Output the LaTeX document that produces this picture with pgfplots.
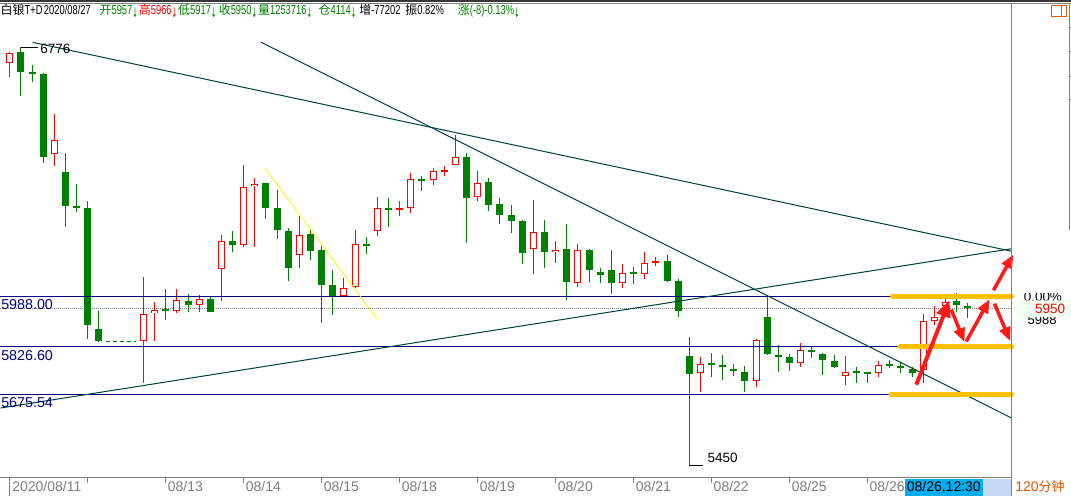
\documentclass[border=0pt]{standalone}
\usepackage{pgfplots}
\pgfplotsset{compat=1.18}
\usepackage{pgfplotstable}
\usepackage{graphicx}
\usepackage{fontspec}
\setmainfont{Liberation Sans}
\newfontfamily\cjk{Noto Sans CJK SC}
\newfontfamily\dv{DejaVu Sans}
\usetikzlibrary{arrows.meta}
\definecolor{cgreen}{HTML}{008000}
\definecolor{cred}{HTML}{FF0000}
\definecolor{navyl}{HTML}{000080}
\definecolor{tealx}{HTML}{004040}
\definecolor{amber}{HTML}{FFC000}
\definecolor{arrred}{HTML}{FF1A1A}
\definecolor{lgray}{HTML}{808080}
\definecolor{orangered2}{HTML}{E05A00}
\definecolor{lblue}{HTML}{C5DAF2}
\newcommand\lt[1]{\scalebox{0.72}[1]{\fontsize{13}{14}\selectfont #1}}
\newcommand\zh[1]{{\cjk\fontsize{12}{14}\selectfont #1}}
\newcommand\da{\raisebox{-3pt}{\scalebox{0.55}[1.1]{\dv\fontsize{12}{14}\selectfont ↓}}}

\pgfplotstableread{
x o h l c
0 6726 6760 6683 6759
4 6438 6565 6401 6483
12 5844 6047 5714 5932
13 5934 5970 5846 5944
15 5942 6011 5933 5975
17 5961 5992 5938 5978
19 6073 6181 5971 6162
21 6151 6404 6145 6333
22 6336 6362 6145 6343
26 6118 6243 6078 6181
30 5989 6046 5984 6014
31 6016 6198 6014 6153
33 6194 6302 6177 6267
35 6262 6290 6240 6268
36 6268 6378 6250 6358
38 6355 6394 6341 6384
39 6382 6401 6367 6386
40 6403 6498 6402 6428
42 6301 6385 6288 6347
47 6137 6293 6058 6191
49 6127 6163 6094 6135
51 6029 6154 6018 6134
55 6029 6090 6015 6062
57 6058 6127 6041 6092
58 6094 6112 6083 6100
62 5744 5796 5683 5773
67 5718 5852 5700 5850
71 5776 5839 5763 5817
75 5735 5797 5705 5747
78 5744 5783 5733 5770
82 5754 5931 5713 5909
83 5909 5957 5895 5922
84 5957 5979 5940 5970
}\redtab

\pgfplotstableread{
x o h l c
1 6761 6776 6623 6699
2 6697 6720 6667 6693
3 6693 6694 6411 6430
5 6381 6441 6208 6272
6 6272 6343 6253 6266
7 6268 6290 5853 5895
8 5884 5941 5843 5844
14 5945 6011 5913 5942
16 5973 5995 5938 5961
18 5979 5987 5936 5939
20 6163 6195 6126 6151
23 6347 6347 6233 6268
24 6268 6324 6170 6196
25 6195 6203 6037 6078
27 6185 6196 6103 6132
28 6135 6145 5904 6022
29 6022 6071 5927 5989
32 6151 6175 6120 6147
34 6268 6298 6208 6262
37 6359 6369 6322 6354
41 6429 6442 6155 6300
43 6350 6362 6259 6278
44 6280 6299 6215 6246
45 6245 6277 6189 6227
46 6226 6230 6091 6123
48 6192 6230 6078 6126
50 6138 6217 5976 6031
52 6135 6136 6033 6069
53 6065 6078 6028 6054
54 6071 6135 5996 6028
56 6063 6081 6025 6058
59 6100 6119 6032 6037
60 6036 6042 5923 5942
61 5799 5857 5450 5740
63 5775 5808 5730 5771
64 5770 5802 5721 5762
65 5758 5774 5733 5749
66 5748 5765 5683 5718
68 5922 5989 5802 5803
69 5802 5833 5746 5797
70 5796 5803 5752 5776
72 5818 5828 5792 5811
73 5804 5808 5737 5784
74 5783 5801 5759 5762
76 5748 5763 5714 5744
77 5745 5748 5713 5741
79 5771 5786 5761 5765
80 5766 5778 5744 5761
81 5758 5764 5733 5744
85 5971 5998 5937 5961
86 5957 5966 5917 5950
}\greentab

\begin{document}
\begin{tikzpicture}
\begin{scope}[x=1pt,y=-1pt,yshift=478pt]
\useasboundingbox (0,0) rectangle (1071,496);
\fill[white] (0,0) rectangle (1071,496);
\end{scope}
\begin{axis}[at={(0pt,0pt)}, anchor=south west, scale only axis,
  width=1012pt, height=474pt,
  xmin=-0.834, xmax=89.93, ymin=5412.7, ymax=6913.4,
  axis lines=none, clip=false]
% dotted last-price line
\addplot[lgray, line width=1pt, dash pattern=on 1pt off 1pt] coordinates {(-0.834,5950) (89.93,5950)};
% wicks
\addplot[draw=none, mark=none, error bars/.cd, y dir=both, y explicit, error mark=none,
  error bar style={line width=1pt, draw=cgreen}]
  table[x=x, y expr={(\thisrow{h}+\thisrow{l})/2}, y error expr={(\thisrow{h}-\thisrow{l})/2}] {\greentab};
\addplot[draw=none, mark=none, error bars/.cd, y dir=both, y explicit, error mark=none,
  error bar style={line width=1pt, draw=cred}]
  table[x=x, y expr={(\thisrow{h}+\thisrow{l})/2}, y error expr={(\thisrow{h}-\thisrow{l})/2}] {\redtab};
% bodies
\addplot[draw=none, mark=none, error bars/.cd, y dir=both, y explicit, error mark=none,
  error bar style={line width=7pt, draw=cgreen}]
  table[x=x, y expr={(\thisrow{o}+\thisrow{c})/2}, y error expr={max(abs(\thisrow{o}-\thisrow{c})/2,3.2)}] {\greentab};
\addplot[draw=none, mark=none, error bars/.cd, y dir=both, y explicit, error mark=none,
  error bar style={line width=7pt, draw=cred}]
  table[x=x, y expr={(\thisrow{o}+\thisrow{c})/2}, y error expr={max(abs(\thisrow{o}-\thisrow{c})/2,3.2)}] {\redtab};
\addplot[draw=none, mark=none, error bars/.cd, y dir=both, y explicit, error mark=none,
  error bar style={line width=5pt, draw=white}]
  table[x=x, y expr={(\thisrow{o}+\thisrow{c})/2}, y error expr={max(abs(\thisrow{o}-\thisrow{c})/2-3.2,0)}] {\redtab};
% suspended slots
\addplot[cgreen, line width=1pt, dash pattern=on 4pt off 3pt] coordinates {(8.67,5843) (11.36,5843)};
% horizontal levels
\addplot[navyl, line width=1pt] coordinates {(-0.834,5988) (89.93,5988)};
\addplot[navyl, line width=1pt] coordinates {(-0.834,5826.6) (89.93,5826.6)};
\addplot[navyl, line width=1pt] coordinates {(-0.834,5675.54) (89.93,5675.54)};
% trend lines
\addplot[tealx, line width=1pt] coordinates {(2.04,6792) (89.93,6130)};
\addplot[tealx, line width=1pt] coordinates {(22.57,6792) (89.96,5601)};
\addplot[tealx, line width=1pt] coordinates {(-0.83,5633) (89.96,6138)};
\addplot[yellow, line width=0.8pt] coordinates {(22.93,6392) (32.98,5915)};
% orange zones
\addplot[amber, line width=5pt, line cap=round] coordinates {(79.26,5988) (89.93,5988)};
\addplot[amber, line width=5pt, line cap=round] coordinates {(79.93,5826.6) (89.93,5826.6)};
\addplot[amber, line width=5pt, line cap=round] coordinates {(79.12,5675.54) (89.93,5675.54)};
% extreme annotations
\addplot[black, line width=0.8pt] coordinates {(1,6776) (2.55,6776)};
\addplot[black, line width=0.8pt] coordinates {(61,5450) (62.22,5450)};
\node[anchor=west, inner sep=0, font=\fontsize{13.5}{14}\selectfont] at (axis cs:2.72,6772) {6776};
\node[anchor=west, inner sep=0, font=\fontsize{13.5}{14}\selectfont] at (axis cs:62.62,5475) {5450};
% level labels
\node[anchor=west, inner sep=0, text=navyl, font=\fontsize{14.3}{15}\selectfont] at (axis cs:-0.78,5962) {5988.00};
\node[anchor=west, inner sep=0, text=navyl, font=\fontsize{14.3}{15}\selectfont] at (axis cs:-0.78,5800) {5826.60};
\node[anchor=west, inner sep=0, text=navyl, font=\fontsize{14.3}{15}\selectfont] at (axis cs:-0.78,5649) {5675.54};
% red arrows
\draw[arrred, line width=4pt, -{Triangle[length=17pt,width=14pt]}] (axis cs:81.38,5707) -- (axis cs:84.37,5975);
\draw[arrred, line width=3.5pt, -{Triangle[length=14pt,width=11pt]}] (axis cs:84.52,5945) -- (axis cs:85.71,5842);
\draw[arrred, line width=3.5pt, -{Triangle[length=14pt,width=11pt]}] (axis cs:85.87,5844) -- (axis cs:87.96,5978);
\draw[arrred, line width=3.5pt, -{Triangle[length=14pt,width=11pt]}] (axis cs:88.40,5964) -- (axis cs:89.81,5845);
\draw[arrred, line width=3.5pt, -{Triangle[length=14pt,width=11pt]}] (axis cs:88.31,6006) -- (axis cs:90.10,6120);
\end{axis}
\begin{scope}[x=1pt,y=-1pt,yshift=478pt]
% top band
\fill[black!78] (0,0) rectangle (1071,2.3);
\draw[lgray, line width=1pt] (0,3.5) -- (1071,3.5);
% frame
\draw[lgray, line width=1pt] (1012,3.5) -- (1012,496);
\draw[lgray, line width=1pt] (0,478.3) -- (1012,478.3);
\draw[lgray, line width=0.8pt] (1069.5,3) -- (1069.5,230);
\foreach \t in {27.7,51.7,76,99.3} \draw[lgray, line width=0.8pt] (1069.5,\t) -- (1071,\t);
% icon
\draw[orangered2, line width=0.9pt] (1051.5,5.7) rectangle (1066.5,16);
\draw[orangered2, line width=0.9pt] (1062.3,5.7) -- (1062.3,16);
% header
\begin{scope}[every node/.style={anchor=base west, inner sep=0}]
\node[text=black] at (0,14.5) {\zh{白银}\lt{T+D}};
\node[text=black] at (43.3,14.5) {\lt{2020/08/27}};
\node[text=cgreen] at (99,14.5) {\zh{开}\lt{5957}\da};
\node[text=cred] at (138.3,14.5) {\zh{高}\lt{5966}\da};
\node[text=cgreen] at (177.7,14.5) {\zh{低}\lt{5917}\da};
\node[text=cgreen] at (218.3,14.5) {\zh{收}\lt{5950}\da};
\node[text=cgreen] at (257.7,14.5) {\zh{量}\lt{1253716}\da};
\node[text=cgreen] at (318.3,14.5) {\zh{仓}\lt{4114}\da};
\node[text=black] at (359,14.5) {\zh{增}\lt{-77202}};
\node[text=black] at (405,14.5) {\zh{振}\lt{0.82\%}};
\node[text=cgreen] at (457.7,14.5) {\zh{涨}\lt{(-8)-0.13\%}\da};
% right price tags
\node[text=black, font=\fontsize{13.5}{14}\selectfont] at (1024,301.5) {0.00\%};
\node[text=black, font=\fontsize{13}{14}\selectfont] at (1028,324.5) {5988};
\end{scope}
\fill[white] (1016,286) rectangle (1068,293.5);
\fill[green!6!white] (1013,308.5) -- (1022,300.7) -- (1071,300.7) -- (1071,317.5) -- (1022,317.5) -- cycle;
\node[anchor=base west, inner sep=0, text=cred, font=\fontsize{13.5}{14}\selectfont] at (1035.5,313.3) {5950};
% x ticks and labels
\draw[lgray, line width=1pt] (9.3,478.3) -- (9.3,496);
\foreach \p in {87.35,165.4,243.45,321.5,399.55,477.6,555.65,633.7,711.75,789.8,867.85}
  \draw[lgray, line width=1pt] (\p,478.3) -- (\p,483.5);
\begin{scope}[every node/.style={anchor=base west, inner sep=0, text=lgray, font=\fontsize{14}{15}\selectfont}]
\node at (11.7,492.3) {2020/08/11};
\node at (167.4,492.3) {08/13};
\node at (245.4,492.3) {08/14};
\node at (323.5,492.3) {08/15};
\node at (401.5,492.3) {08/18};
\node at (479.6,492.3) {08/19};
\node at (557.6,492.3) {08/20};
\node at (635.7,492.3) {08/21};
\node at (713.7,492.3) {08/22};
\node at (791.8,492.3) {08/25};
\node at (869.8,492.3) {08/26};
\end{scope}
\fill[cyan] (905.7,479) rectangle (983.3,496);
\fill[lblue] (983.3,479) rectangle (1011.5,496);
\node[anchor=base west, inner sep=0, font=\fontsize{14}{15}\selectfont] at (907,492.3) {08/26,12:30};
\node[anchor=base west, inner sep=0, text=orangered2] at (1015.5,492.3) {{\fontsize{14}{15}\selectfont 120}{\cjk\fontsize{13}{15}\selectfont 分钟}};
\end{scope}
\end{tikzpicture}
\end{document}
